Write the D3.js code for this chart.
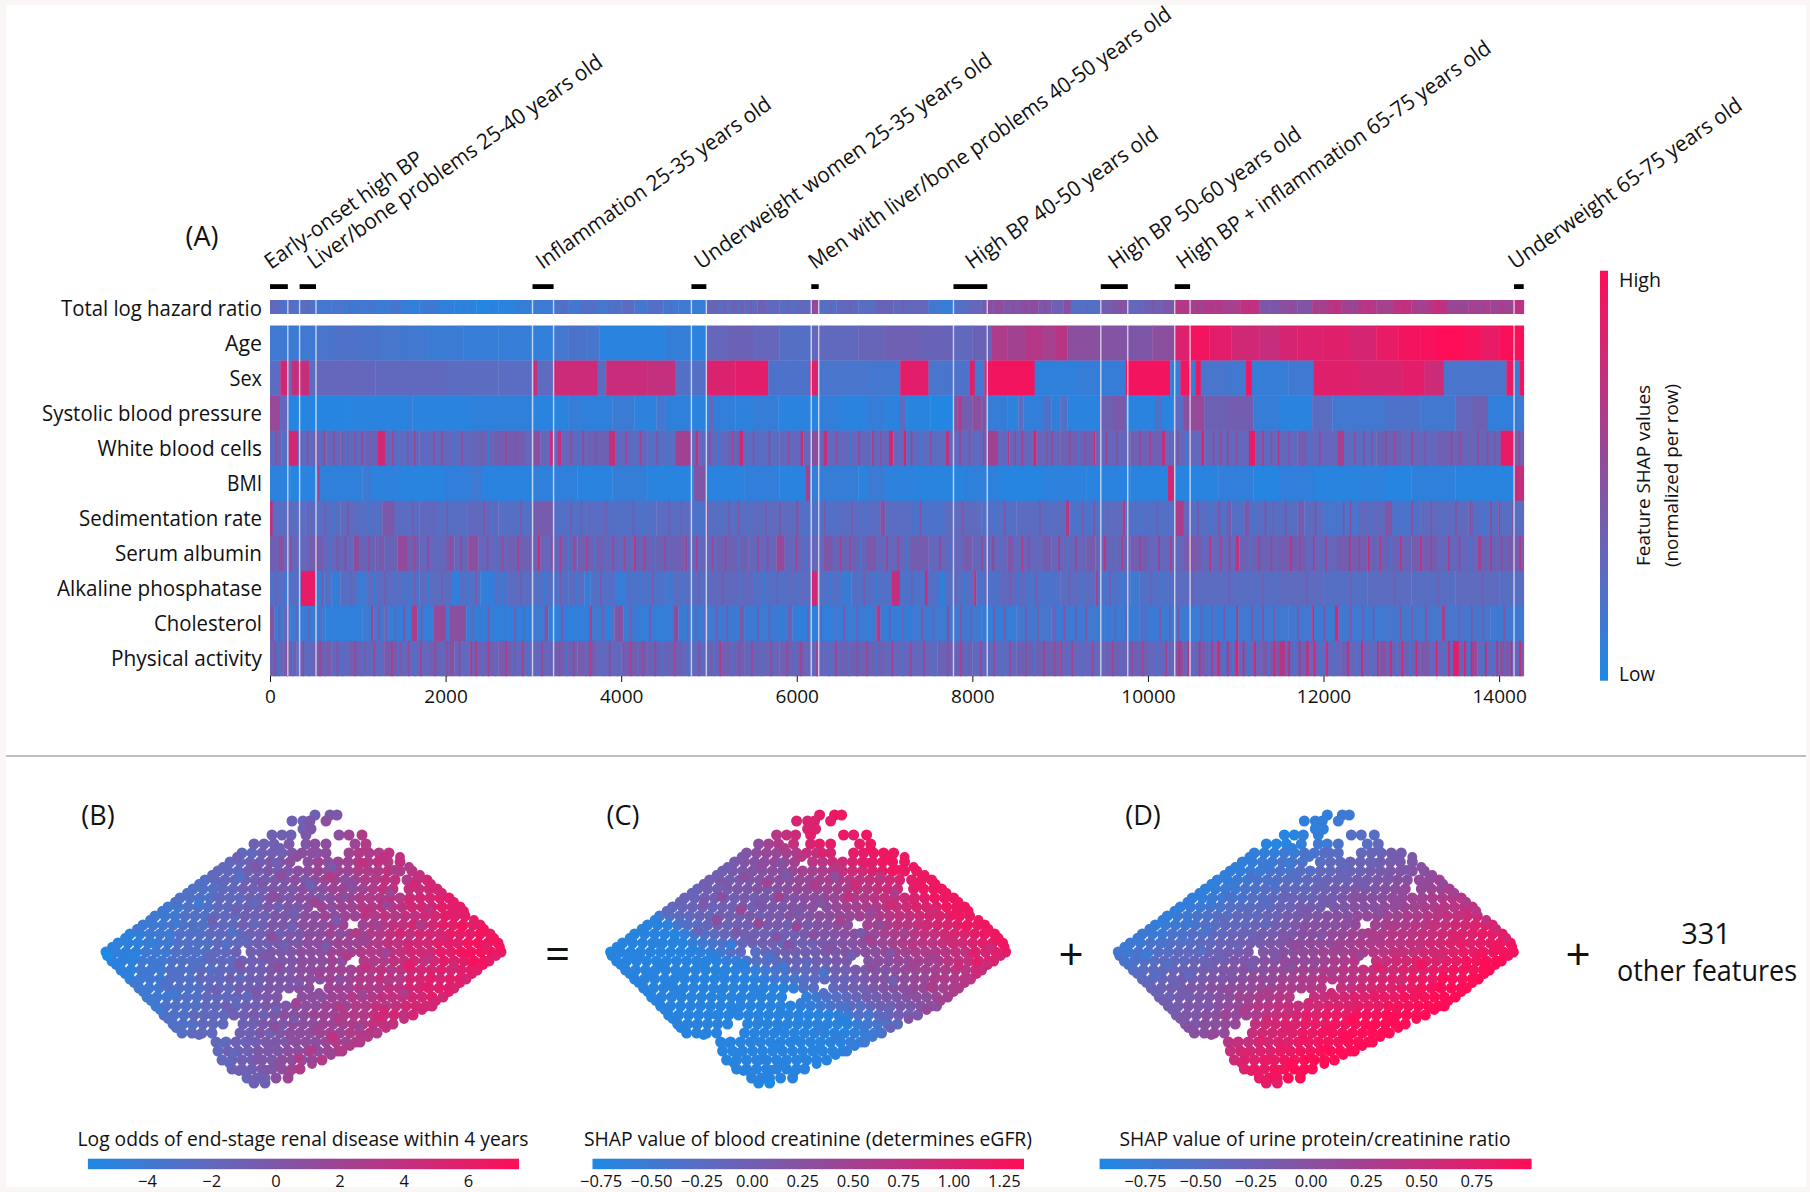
<!DOCTYPE html>
<html><head><meta charset="utf-8">
<script src="https://cdn.jsdelivr.net/npm/d3@7"></script>
<style>html,body{margin:0;padding:0;background:#faf6f5}svg{display:block}text{font-family:"Open Sans",sans-serif;fill:#111}</style>
</head><body><svg id="c" width="1810" height="1192"></svg>
<script>
// ---------- Panel A data: [first patient index, normalized SHAP value] ----------
const totalHazard=[[0,.28],[110,.2],[203,.26],[270,.2],[337,.24],[430,.2],[524,.15],[700,.18],[850,.13],[1000,.17],[1180,.12],[1350,.14],[1500,.1],[1700,.13],[1900,.08],[2100,.06],[2350,.03],[2600,.05],[2800,.09],[2990,.12],[3230,.2],[3400,.16],[3550,.24],[3700,.17],[3850,.2],[4000,.26],[4150,.18],[4300,.22],[4480,.16],[4650,.14],[4800,.1],[4970,.32],[5100,.26],[5250,.35],[5400,.28],[5550,.36],[5650,.3],[5800,.24],[6000,.28],[6165,.55],[6250,.22],[6450,.28],[6700,.24],[6900,.33],[7100,.28],[7300,.3],[7500,.15],[7650,.1],[7785,.22],[7950,.3],[8100,.38],[8170,.52],[8350,.44],[8550,.52],[8750,.42],[8900,.36],[9035,.5],[9120,.22],[9453,.38],[9600,.44],[9770,.3],[9950,.36],[10150,.42],[10305,.68],[10480,.6],[10650,.68],[10850,.62],[11050,.72],[11266,.44],[11500,.5],[11700,.46],[11870,.64],[12050,.7],[12200,.6],[12400,.68],[12600,.62],[12800,.72],[13000,.64],[13200,.72],[13405,.56],[13650,.62],[13900,.58],[14172,.72]];
const ageShap=[[0,.14],[203,.12],[337,.14],[524,.18],[750,.21],[1000,.19],[1250,.17],[1500,.15],[1800,.12],[2200,.1],[2600,.1],[2990,.08],[3230,.15],[3400,.19],[3600,.17],[3750,.05],[4200,.05],[4500,.09],[4800,.05],[4970,.3],[5200,.34],[5500,.3],[5800,.23],[6000,.22],[6165,.3],[6250,.28],[6700,.32],[7000,.36],[7400,.33],[7785,.28],[8000,.33],[8221,.65],[8400,.6],[8600,.68],[8800,.62],[8950,.7],[9081,.5],[9453,.47],[9770,.44],[10050,.5],[10305,.85],[10480,.95],[10700,.88],[10950,.8],[11266,.76],[11500,.82],[11700,.85],[12000,.87],[12300,.82],[12600,.9],[12850,.95],[13100,.97],[13300,1],[13600,.96],[13800,.9],[14000,.98]];
const sexShap=[[0,.25],[118,.8],[211,.25],[249,.76],[444,.27],[524,.3],[1200,.28],[2000,.26],[2600,.25],[3000,.75],[3047,.27],[3233,.78],[3731,.26],[3829,.77],[4300,.74],[4619,.22],[4970,.84],[5300,.88],[5674,.2],[6148,.85],[6241,.18],[6800,.16],[7178,.88],[7500,.18],[7765,.2],[7965,.9],[8026,.15],[8137,.85],[8198,.95],[8709,.07],[9200,.1],[9741,.95],[10253,.08],[10369,.93],[10490,.1],[10545,.93],[10601,.18],[10900,.15],[11117,.93],[11182,.1],[11600,.14],[11889,.87],[12400,.83],[12900,.88],[13150,.78],[13368,.18],[14083,.9],[14170,.15],[14232,.95]];
const sbpShap=[[0,.55],[110,.3],[211,.03],[900,.05],[1583,.12],[1620,.05],[2300,.07],[3000,.05],[3400,.1],[3550,.07],[3900,.12],[4150,.06],[4400,.16],[4500,.07],[4800,.05],[5000,.3],[5046,.08],[5300,.06],[5500,.1],[5790,.05],[6250,.08],[6500,.05],[6800,.1],[7000,.06],[7175,.25],[7245,.04],[7520,.02],[7780,.48],[7830,.62],[7880,.38],[8000,.5],[8100,.42],[8175,.1],[8400,.06],[8523,.25],[8580,.08],[8800,.2],[8900,.08],[9000,.22],[9081,.05],[9453,.35],[9600,.42],[9755,.05],[10080,.2],[10160,.05],[10290,.25],[10400,.5],[10500,.55],[10640,.35],[10900,.38],[11200,.1],[11500,.05],[11870,.25],[12100,.15],[12700,.2],[13100,.15],[13500,.3],[13700,.35],[13870,.08],[14172,.12]];
const wbcShap=[[0,.28],[80,.35],[130,.22],[211,.8],[318,.28],[500,.35],[640,.3],[800,.36],[900,.28],[1100,.34],[1225,.8],[1309,.3],[1500,.26],[1700,.3],[2000,.28],[2300,.32],[2560,.38],[2900,.3],[3000,.5],[3080,.3],[3180,.75],[3225,.28],[3280,.75],[3320,.3],[3600,.34],[3860,.76],[3930,.28],[4300,.24],[4620,.6],[4790,.3],[4850,.7],[4880,.28],[5200,.33],[5350,.85],[5386,.26],[5800,.3],[6045,.8],[6075,.3],[6165,.5],[6250,.3],[6300,.75],[6350,.3],[6800,.28],[6850,.6],[6880,.3],[7050,.8],[7100,.3],[7212,.85],[7245,.26],[7700,.8],[7730,.3],[8175,.6],[8290,.28],[8400,.7],[8420,.3],[8700,.85],[8730,.3],[9000,.36],[9380,.8],[9400,.3],[9800,.36],[10150,.75],[10200,.3],[10606,.85],[10640,.3],[11150,.9],[11220,.28],[11700,.38],[11800,.3],[12160,.65],[12230,.26],[12600,.34],[12900,.3],[13300,.36],[13600,.32],[14018,.9],[14170,.36]];
const bmiShap=[[0,.06],[230,.03],[337,.05],[537,.6],[565,.07],[1050,.12],[1150,.06],[1500,.04],[2000,.08],[2300,.14],[2400,.05],[3000,.07],[3500,.05],[3900,.09],[4300,.04],[4823,.45],[4954,.05],[5400,.08],[5800,.05],[6100,.6],[6153,.1],[6700,.06],[6800,.12],[7000,.06],[7400,.04],[7900,.07],[8300,.03],[8800,.06],[9300,.05],[9800,.04],[10220,.8],[10299,.04],[10800,.08],[11200,.03],[11500,.08],[11900,.04],[12400,.06],[12700,.03],[13000,.07],[13500,.04],[14172,.75]];
const sedimentation=[[0,.75],[30,.25],[400,.28],[520,.24],[800,.27],[1000,.23],[1280,.42],[1420,.25],[1700,.28],[1900,.24],[2250,.28],[2600,.23],[3000,.4],[3225,.22],[3600,.26],[3800,.32],[3850,.22],[4400,.25],[4800,.2],[4970,.8],[4990,.24],[5500,.27],[6000,.6],[6020,.22],[6500,.25],[6950,.45],[7010,.25],[7300,.2],[7700,.27],[8100,.22],[8500,.26],[9058,.7],[9104,.2],[9500,.27],[9710,.6],[9740,.22],[10313,.65],[10406,.3],[10500,.24],[10900,.38],[10950,.22],[11100,.42],[11150,.24],[11700,.38],[11780,.26],[12000,.18],[12400,.28],[12700,.45],[12780,.2],[13100,.27],[13650,.42],[13700,.22],[13990,.55],[14010,.24]];
const albumin=[[0,.36],[100,.5],[160,.3],[440,.38],[600,.3],[950,.52],[1010,.33],[1200,.42],[1300,.33],[1450,.54],[1560,.36],[1700,.3],[2000,.38],[2100,.31],[2257,.5],[2374,.3],[2700,.35],[3050,.7],[3080,.31],[3200,.5],[3230,.32],[3500,.36],[3800,.3],[4140,.7],[4165,.33],[4600,.36],[4720,.6],[4745,.3],[5100,.35],[5450,.31],[5767,.54],[5860,.3],[6300,.44],[6400,.33],[6800,.42],[6900,.3],[7300,.38],[7500,.3],[7900,.4],[8000,.31],[8400,.46],[8460,.3],[8800,.38],[8900,.31],[9300,.4],[9400,.32],[9800,.38],[10000,.3],[10400,.4],[10600,.3],[11000,.72],[11040,.34],[11500,.38],[11800,.3],[12150,.38],[12500,.74],[12530,.33],[13000,.38],[13300,.3],[13750,.6],[13800,.33],[14100,.4]];
const alkaline=[[0,.22],[351,.9],[514,.1],[620,.22],[700,.1],[800,.24],[1000,.12],[1100,.25],[1500,.2],[1700,.26],[2071,.08],[2164,.22],[2396,.08],[2559,.2],[2700,.26],[3000,.22],[3400,.26],[3580,.1],[3650,.22],[3930,.1],[4050,.2],[4500,.15],[4600,.24],[5000,.28],[5500,.22],[5900,.26],[6172,.8],[6232,.22],[6500,.12],[6620,.22],[7083,.75],[7175,.2],[7460,.75],[7490,.22],[7617,.07],[7686,.24],[8020,.75],[8045,.2],[8300,.28],[8600,.2],[9000,.26],[9400,.6],[9430,.2],[9800,.14],[9900,.22],[10300,.26],[11000,.24],[11500,.27],[12000,.23],[12500,.26],[13000,.24],[13500,.27],[14000,.24]];
const cholesterol=[[0,.45],[50,.14],[160,.3],[230,.12],[630,.07],[1050,.12],[1150,.6],[1175,.15],[1300,.3],[1350,.1],[1615,.65],[1676,.12],[1862,.55],[2000,.14],[2048,.5],[2234,.09],[2700,.08],[3000,.14],[3130,.5],[3170,.08],[3640,.6],[3665,.15],[3922,.45],[4024,.12],[4200,.1],[4600,.55],[4650,.12],[4950,.4],[4980,.14],[5350,.4],[5400,.13],[5900,.35],[5950,.08],[6400,.13],[6906,.65],[6953,.1],[7300,.14],[7700,.1],[7710,.6],[7730,.15],[8100,.1],[8500,.17],[8900,.3],[8950,.14],[9500,.12],[9900,.2],[10000,.13],[11010,.85],[11030,.14],[11600,.16],[11870,.75],[11890,.12],[12130,.78],[12170,.14],[12700,.17],[13350,.7],[13380,.18],[13900,.14]];
const activity=[[0,.32],[150,.38],[300,.28],[500,.4],[700,.3],[900,.36],[1100,.28],[1300,.42],[1500,.3],[1800,.34],[2050,.5],[2100,.3],[2270,.6],[2300,.36],[2600,.4],[2800,.3],[3200,.36],[3500,.4],[3700,.3],[4000,.38],[4300,.33],[4700,.28],[5000,.36],[5400,.32],[5800,.36],[6100,.3],[6500,.34],[7000,.3],[7600,.34],[8000,.28],[8500,.35],[9000,.7],[9020,.3],[9500,.34],[10000,.3],[10320,.5],[10400,.33],[10600,.42],[10680,.3],[10780,.7],[10820,.33],[11000,.85],[11030,.3],[11300,.42],[11500,.7],[11560,.33],[11800,.7],[11840,.3],[12200,.38],[12300,.3],[12650,.5],[12700,.33],[13100,.42],[13200,.3],[13475,.9],[13540,.33],[13700,.55],[13750,.3],[14000,.5],[14100,.33]];

// thin single stripes laid over the bands: [patient index, value]
const wbcThin=[[60,.5],[420,.55],[560,.15],[610,.5],[720,.55],[860,.14],[960,.5],[1040,.6],[1390,.55],[1450,.14],[1560,.5],[1640,.6],[1780,.14],[1860,.5],[1950,.55],[2100,.14],[2180,.5],[2400,.45],[2480,.14],[2680,.55],[2790,.5],[3420,.55],[3500,.15],[3560,.6],[3700,.5],[4050,.55],[4130,.14],[4210,.6],[4400,.5],[4500,.14],[5000,.6],[5100,.14],[5260,.55],[5500,.5],[5590,.15],[5680,.6],[5900,.5],[6450,.55],[6600,.14],[6700,.6],[6950,.5],[7300,.6],[7400,.14],[7520,.55],[7850,.6],[7960,.5],[8050,.14],[8120,.6],[8480,.55],[8560,.6],[8840,.5],[8900,.55],[9100,.6],[9200,.14],[9280,.5],[9520,.6],[9640,.55],[9900,.6],[10020,.6],[10330,.55],[10430,.14],[10740,.6],[10820,.55],[10900,.6],[11000,.5],[11300,.6],[11400,.5],[11480,.7],[11600,.55],[11850,.14],[11950,.6],[12350,.55],[12450,.6],[12540,.5],[12700,.6],[12800,.55],[13000,.6],[13150,.5],[13450,.6],[13550,.5],[13750,.6],[13860,.6],[13950,.5],[14220,.6]];
const sedThin=[[210,.4],[620,.42],[720,.14],[880,.45],[1120,.14],[1620,.42],[2010,.4],[2430,.45],[2520,.14],[2850,.42],[3420,.42],[3540,.45],[3720,.14],[4130,.42],[4240,.14],[4540,.45],[4680,.42],[5220,.42],[5330,.45],[5640,.4],[5800,.45],[6310,.42],[6620,.45],[6780,.14],[7400,.45],[7600,.14],[7880,.45],[8240,.14],[8360,.45],[8760,.42],[8890,.14],[9250,.42],[9380,.45],[9900,.14],[10100,.42],[10560,.5],[10700,.14],[10800,.5],[11210,.14],[11330,.55],[11420,.4],[11560,.5],[11900,.55],[12060,.14],[12220,.55],[12300,.5],[12520,.14],[12900,.14],[13000,.55],[13220,.5],[13360,.14],[13500,.5],[13820,.14],[13900,.55],[14150,.5]];
const albuminThin=[[230,.55],[330,.18],[530,.55],[680,.18],[760,.55],[850,.6],[1120,.55],[1220,.18],[1640,.55],[1790,.6],[1880,.18],[2050,.55],[2170,.6],[2470,.55],[2560,.18],[2640,.55],[2820,.6],[3300,.6],[3390,.18],[3460,.55],[3600,.6],[3690,.18],[3900,.6],[4030,.55],[4260,.6],[4380,.18],[4490,.55],[4850,.6],[5030,.55],[5180,.6],[5330,.18],[5550,.6],[5660,.55],[5990,.6],[6100,.18],[6490,.6],[6600,.55],[6720,.18],[7020,.6],[7150,.55],[7240,.18],[7620,.65],[7740,.18],[8100,.6],[8230,.7],[8320,.18],[8560,.65],[8640,.55],[8980,.7],[9080,.18],[9170,.65],[9500,.7],[9620,.18],[9700,.65],[9900,.6],[10120,.7],[10250,.6],[10480,.65],[10700,.75],[10820,.6],[10920,.7],[11150,.18],[11260,.7],[11400,.6],[11620,.75],[11720,.6],[11880,.7],[12020,.6],[12290,.75],[12400,.6],[12640,.65],[12760,.18],[12870,.7],[13100,.75],[13220,.6],[13420,.7],[13540,.6],[13660,.18],[13900,.7],[14020,.6],[14230,.7]];
const alkalineThin=[[60,.35],[180,.1],[590,.4],[760,.1],[920,.38],[1180,.1],[1300,.4],[1420,.12],[1640,.4],[1800,.1],[1950,.38],[2260,.1],[2340,.4],[2640,.1],[2850,.38],[3120,.1],[3300,.4],[3480,.12],[3760,.4],[4200,.1],[4350,.4],[4700,.1],[4880,.38],[5150,.4],[5340,.12],[5620,.1],[5770,.38],[6000,.1],[6380,.1],[6760,.4],[6900,.1],[7300,.4],[7800,.4],[7900,.1],[8150,.35],[8420,.42],[8520,.12],[8720,.4],[8870,.12],[9100,.42],[9240,.12],[9560,.4],[9700,.12],[10030,.4],[10150,.12],[10500,.35],[10920,.4],[11300,.35],[11800,.35],[12300,.34],[12800,.35],[13300,.34],[13800,.35]];
const cholesterolThin=[[100,.4],[300,.35],[440,.45],[560,.35],[1230,.45],[1420,.4],[1520,.5],[1720,.4],[1800,.03],[2300,.35],[2480,.4],[2590,.03],[2780,.4],[2880,.35],[3240,.03],[3320,.45],[3450,.03],[3780,.35],[3850,.03],[4100,.4],[4320,.45],[4430,.03],[4750,.35],[4840,.4],[5080,.4],[5200,.45],[5550,.4],[5680,.45],[5820,.03],[6120,.4],[6270,.4],[6530,.45],[6680,.4],[6800,.03],[7050,.45],[7200,.35],[7420,.45],[7550,.4],[7860,.45],[7980,.4],[8240,.45],[8360,.4],[8600,.45],[8740,.4],[9040,.45],[9170,.4],[9290,.45],[9620,.4],[9740,.45],[10130,.45],[10240,.4],[10340,.5],[10600,.45],[10720,.4],[10860,.45],[11180,.45],[11300,.5],[11430,.4],[11700,.45],[12000,.5],[12300,.45],[12440,.4],[12560,.5],[12870,.45],[13000,.4],[13160,.5],[13540,.4],[13680,.5],[13810,.4],[14050,.45]];
const activityThin=[[50,.55],[90,.18],[190,.55],[250,.18],[370,.55],[440,.2],[560,.6],[620,.18],[760,.55],[820,.2],[960,.6],[1040,.18],[1180,.55],[1240,.2],[1380,.6],[1450,.18],[1570,.55],[1640,.2],[1710,.6],[1870,.55],[1950,.2],[2010,.55],[2150,.6],[2220,.2],[2340,.65],[2420,.2],[2480,.6],[2560,.2],[2680,.65],[2750,.2],[2870,.6],[2940,.2],[3090,.6],[3290,.55],[3370,.2],[3450,.6],[3590,.2],[3640,.65],[3790,.2],[3860,.6],[3950,.2],[4100,.6],[4180,.2],[4240,.55],[4380,.6],[4460,.2],[4600,.6],[4760,.2],[4880,.55],[5050,.2],[5120,.65],[5260,.2],[5340,.55],[5480,.6],[5590,.2],[5700,.6],[5880,.55],[5970,.2],[6040,.65],[6220,.6],[6360,.2],[6440,.6],[6590,.2],[6680,.55],[6790,.6],[6900,.2],[7080,.6],[7200,.2],[7290,.55],[7440,.6],[7560,.2],[7710,.55],[7860,.6],[7920,.2],[8090,.6],[8240,.55],[8330,.2],[8420,.6],[8600,.55],[8700,.2],[8810,.6],[8930,.55],[9130,.6],[9240,.2],[9360,.55],[9590,.6],[9690,.2],[9810,.55],[9930,.6],[10090,.2],[10200,.6],[10350,.8],[10450,.7],[10510,.15],[10580,.8],[10650,.15],[10720,.75],[10860,.15],[10900,.8],[10960,.15],[11080,.8],[11140,.15],[11210,.85],[11370,.15],[11430,.8],[11600,.85],[11660,.15],[11720,.8],[11890,.85],[11960,.15],[12030,.8],[12110,.15],[12270,.8],[12360,.15],[12430,.85],[12560,.15],[12610,.8],[12760,.85],[12830,.15],[12890,.8],[12980,.15],[13050,.8],[13280,.85],[13360,.15],[13420,.85],[13600,.85],[13640,.15],[13680,.9],[13800,.15],[13840,.85],[13920,.15],[13970,.8],[14060,.15],[14130,.8],[14230,.85]];
const totalThin=[[430,.32],[900,.28],[1100,.04],[1430,.26],[1640,.03],[1830,.2],[2200,.14],[2520,.12],[3340,.3],[3630,.08],[3930,.32],[4230,.1],[4560,.28],[5170,.4],[5330,.18],[5470,.42],[5720,.2],[5900,.36],[6380,.36],[6600,.36],[7200,.4],[8230,.3],[8460,.62],[8640,.36],[8820,.58],[9300,.3],[9680,.52],[10050,.46],[10560,.74],[10760,.52],[11150,.82],[11380,.36],[11620,.6],[11950,.5],[12130,.8],[12320,.5],[12500,.78],[12720,.5],[12920,.8],[13100,.52],[13300,.82],[13520,.66],[13780,.5],[14030,.68]];

const rowLabels=["Total log hazard ratio","Age","Sex","Systolic blood pressure","White blood cells","BMI","Sedimentation rate","Serum albumin","Alkaline phosphatase","Cholesterol","Physical activity"];
const rowStripes=[totalHazard,ageShap,sexShap,sbpShap,wbcShap,bmiShap,sedimentation,albumin,alkaline,cholesterol,activity];
const rowThin=[totalThin,[],[],[],wbcThin,[],sedThin,albuminThin,alkalineThin,cholesterolThin,activityThin];
const patientCount=14280;
const patientTicks=[0,2000,4000,6000,8000,10000,12000,14000];

const clusterNames=["Early-onset high BP","Liver/bone problems 25-40 years old","Inflammation 25-35 years old","Underweight women 25-35 years old","Men with liver/bone problems 40-50 years old","High BP 40-50 years old","High BP 50-60 years old","High BP + inflammation 65-75 years old","Underweight 65-75 years old"];
const clusterStart=[0,337,2990,4800,6165,7785,9463,10305,14170];
const clusterEnd=[203,524,3230,4970,6250,8170,9770,10480,14280];

// ---------- Panels B, C, D data: embedding rows, and the value at each point ----------
const embedY=[0,6,14,20,29,38,47,56,65,74,83,92,101,110,119,128,137,146,155,164,173,182,191,200,209,218,227,236,245,254,263,268];
const embedX=[
[211,226,233],
[188,199,206,222],
[199,207],
[168,178,187,202,235,245,258],
[150,160,170,185,202,211,222,251,262],
[138,148,158,168,178,188,198,208,222,245,255,265,275,285],
[126,136,146,156,166,176,186,204,214,224,234,244,254,264,274,284,296],
[114,124,134,144,154,164,174,184,194,204,214,224,234,244,254,264,274,284,296,308],
[101,111,121,131,141,151,161,171,181,191,201,211,221,231,241,251,261,271,281,291,303,313,323],
[89,99,109,119,129,139,149,159,169,179,189,199,209,219,229,239,249,259,269,279,289,305,315,325,333],
[76,86,96,106,116,126,136,146,156,166,176,186,196,206,216,226,236,246,256,266,276,286,296,306,316,326,336,345],
[64,74,84,94,104,114,124,134,144,154,164,174,184,194,204,218,228,238,248,258,268,278,288,298,308,318,328,338,348,356],
[51,61,71,81,91,101,111,121,131,141,151,161,171,181,191,201,211,221,231,241,251,261,271,281,291,301,311,321,331,341,351,361],
[39,49,59,69,79,89,99,109,119,129,139,149,159,169,179,189,199,209,219,229,239,259,269,279,289,299,309,319,329,339,349,359,369,376],
[26,36,46,56,66,76,86,96,106,116,126,136,146,156,166,176,186,196,206,216,226,236,246,256,266,276,286,296,306,316,326,336,346,356,366,376,386],
[14,24,34,44,54,64,74,84,94,104,114,124,134,144,154,164,174,184,194,204,214,224,234,244,254,264,274,284,294,304,314,324,334,344,354,364,374,384,394],
[2,12,22,32,42,52,62,72,82,92,102,112,122,132,147,157,167,177,187,197,207,217,227,237,247,257,267,277,287,297,307,317,327,337,347,357,367,377,387,397],
[8,18,28,38,48,58,68,78,88,98,108,118,128,138,148,158,168,178,188,198,208,218,228,238,260,270,280,290,300,310,320,330,340,350,360,370,380,385],
[17,27,37,47,57,67,77,87,97,107,117,127,137,147,157,167,177,187,197,207,217,227,237,247,257,267,277,287,297,307,317,327,337,347,357,367,373],
[26,36,46,56,66,76,86,96,106,116,126,136,146,156,166,176,186,196,206,216,226,236,246,256,266,276,286,296,306,316,326,336,346,356,362],
[35,45,55,65,75,85,95,105,115,125,135,145,155,165,175,185,195,205,225,235,245,255,265,275,285,295,305,315,325,335,345,350],
[43,53,63,73,83,93,103,113,123,133,143,153,163,173,198,208,218,228,238,248,258,268,278,288,298,308,318,328,339],
[52,62,72,82,92,102,112,122,132,142,152,162,172,182,192,202,212,222,232,242,252,262,272,282,292,302,312,322,328],
[60,70,80,90,100,110,120,130,140,150,160,170,180,190,200,210,220,230,240,250,260,270,280,290,300,309],
[69,79,89,99,109,119,139,149,159,169,179,189,199,209,219,229,239,249,259,269,279,289],
[78,88,98,108,136,146,156,166,176,186,196,206,216,226,236,246,256,266,273],
[112,122,132,142,152,162,172,182,192,202,212,222,232,242,252,256],
[114,124,134,144,154,164,174,184,194,204,214,224,234,238],
[118,128,138,148,158,168,178,188,198,208,218],
[128,138,148,158,168,178,188,196],
[143,153,161,172,184],
[150,161]];
const logOdds=[
[-1,0,0],
[-1,-1,0,1],
[-1,0],
[-1,-1,-1,0,1,2,3],
[-1,-1,-1,0,0,1,1,2,3],
[-2,-2,-1,-1,-1,0,1,1,1,2,3,3,3,4],
[-2,-2,-1,-1,0,0,1,1,2,1,2,2,3,3,4,3,4],
[-2,-2,-2,-1,-1,0,-1,0,1,1,2,1,2,2,3,3,3,4,3,4],
[-3,-2,-2,-2,-1,-1,-1,0,0,1,0,1,2,2,1,2,3,3,4,4,3,4,5],
[-3,-3,-3,-2,-2,-1,-1,-1,0,0,0,1,0,1,2,2,1,2,3,4,4,4,4,5,5],
[-3,-3,-3,-3,-2,-2,-2,-1,-1,0,0,0,1,1,0,1,2,2,3,3,3,4,3,4,5,5,6,6],
[-4,-4,-3,-3,-3,-2,-2,-2,-1,-1,0,-1,0,0,1,2,1,2,2,3,3,4,3,4,5,5,5,6,6,6],
[-4,-4,-4,-3,-3,-3,-2,-2,-2,-1,-1,-1,0,0,0,1,1,2,1,2,2,3,3,4,3,4,4,5,5,6,6,6],
[-4,-4,-4,-3,-3,-3,-3,-2,-2,-2,-1,-1,-1,0,0,0,1,1,1,2,2,2,3,3,4,4,5,4,5,6,6,6,6,6],
[-5,-5,-4,-4,-4,-3,-3,-3,-2,-2,-2,-2,-1,-1,0,-1,0,0,1,1,2,1,2,2,3,3,4,4,4,5,5,5,6,6,6,7,6],
[-5,-5,-5,-4,-4,-4,-3,-3,-3,-3,-2,-2,-2,-1,-1,-1,0,0,0,1,1,1,2,2,2,3,3,4,4,4,5,5,6,6,6,7,7,7,6],
[-6,-5,-5,-5,-4,-4,-4,-3,-3,-3,-3,-2,-2,-1,-1,-1,0,0,0,1,1,1,2,2,2,3,3,3,4,4,5,5,5,6,6,7,7,7,7,6],
[-5,-5,-5,-4,-4,-4,-3,-3,-3,-3,-2,-2,-2,-1,-1,-1,0,0,0,1,1,1,2,1,3,3,3,4,4,5,4,5,6,6,6,7,7,6],
[-5,-5,-4,-4,-4,-3,-3,-3,-2,-3,-2,-2,-1,-1,-1,0,0,0,1,1,1,2,2,2,3,3,4,3,4,5,5,5,6,5,6,6,6],
[-5,-4,-4,-4,-3,-3,-3,-2,-2,-2,-1,-2,-1,-1,0,0,0,1,1,1,2,2,2,3,3,4,4,3,5,5,5,5,6,6,5],
[-4,-4,-4,-3,-3,-3,-3,-2,-2,-2,-1,-1,-1,0,0,0,1,1,2,2,2,3,3,3,4,4,5,5,5,6,6,5],
[-4,-4,-4,-3,-3,-3,-2,-2,-2,-1,-2,-1,0,0,1,1,1,2,2,3,3,3,4,4,4,5,5,6,5],
[-4,-3,-3,-3,-3,-2,-2,-1,-2,-1,-1,0,0,0,1,1,1,2,2,2,3,3,4,3,4,5,5,5,5],
[-3,-3,-3,-2,-2,-2,-2,-1,-1,0,-1,0,1,1,1,2,2,2,3,3,3,4,4,5,4,5],
[-3,-3,-2,-2,-2,-2,-1,-1,0,0,0,1,1,1,2,2,2,3,3,4,4,4],
[-3,-2,-2,-2,-1,-1,0,-1,0,1,1,1,2,2,2,3,3,4,3],
[-2,-2,-1,-2,-1,0,0,0,1,1,1,2,3,2,3,3],
[-2,-1,-1,-1,0,0,0,1,1,2,1,2,3,3],
[-2,-1,-1,-1,0,0,1,1,1,2,3],
[-1,-1,-1,0,0,1,2,3],
[-2,-1,-1,1,2],
[-1,-1]];
const shapCreatinine=[
[1.1,1.2,1.2],
[1,1,1,1.1],
[1,1],
[.7,.8,.9,1.1,1.2,1.1,1.2],
[.3,.5,.6,.8,1,1.1,1.1,1.1,1.2],
[.2,.3,.4,.4,.5,.6,.8,.8,1,1.1,1.1,1.2,1.2,1.2],
[.1,.2,.2,.3,.4,.4,.5,.7,.7,.9,.9,1,1.1,1.1,1.2,1.2,1.2],
[0,.1,.1,.2,.2,.3,.3,.4,.5,.5,.6,.6,.8,.9,.9,1,1.1,1.2,1.2,1.2],
[0,.1,0,.1,.1,.2,.2,.3,.3,.4,.4,.5,.6,.6,.7,.7,.8,.9,.9,1,1.1,1.2,1.2],
[-.1,0,0,0,.1,.1,.2,.1,.2,.3,.4,.4,.4,.5,.5,.6,.7,.7,.8,.9,.9,1.1,1.2,1.2,1.2],
[-.1,-.1,0,0,0,0,.1,0,.1,.1,.2,.2,.3,.3,.4,.4,.5,.6,.6,.7,.8,.8,.9,1,1.1,1.2,1.2,1.2],
[-.2,-.1,-.1,0,-.1,0,0,.1,0,.1,.1,.1,.2,.2,.3,.3,.4,.5,.5,.6,.6,.7,.8,.9,1,1,1.1,1.2,1.2,1.2],
[-.5,-.3,-.2,-.2,-.1,-.1,0,0,0,.1,0,.1,.1,.2,.2,.2,.3,.3,.4,.4,.5,.5,.6,.7,.8,.8,.9,1,1,1.1,1.2,1.2],
[-.7,-.7,-.7,-.5,-.3,-.3,-.1,0,-.1,0,0,0,.1,.1,0,.1,.1,.2,.2,.3,.3,.5,.5,.6,.7,.7,.8,.9,1,1,1.1,1.2,1.2,1.2],
[-.7,-.7,-.7,-.7,-.7,-.6,-.4,-.3,-.2,-.1,-.1,0,0,0,-.1,0,0,.1,.1,.2,.2,.3,.3,.4,.4,.5,.6,.6,.7,.8,.8,.9,1,1,1.1,1.2,1.2],
[-.7,-.7,-.7,-.7,-.7,-.7,-.7,-.6,-.5,-.4,-.3,-.2,-.1,-.1,0,0,-.1,0,0,0,.1,.1,.2,.2,.3,.4,.4,.5,.6,.6,.7,.7,.8,.9,.9,1,1.1,1.2,1.2],
[-.8,-.7,-.7,-.7,-.7,-.7,-.7,-.7,-.7,-.6,-.6,-.5,-.3,-.2,-.3,-.1,-.1,0,0,0,0,.1,.1,.2,.2,.3,.3,.4,.5,.5,.6,.6,.7,.7,.8,.8,.9,1,1.1,1.1],
[-.7,-.7,-.7,-.7,-.7,-.7,-.7,-.7,-.7,-.7,-.7,-.6,-.6,-.4,-.3,-.2,-.2,-.1,-.1,0,0,0,.1,.1,.2,.3,.3,.4,.4,.5,.5,.6,.7,.7,.8,.9,1,1],
[-.7,-.7,-.7,-.7,-.7,-.7,-.7,-.7,-.7,-.7,-.7,-.7,-.6,-.6,-.5,-.4,-.3,-.2,-.2,-.1,-.1,0,0,.1,.1,.2,.2,.3,.4,.4,.5,.5,.6,.7,.7,.8,.8],
[-.7,-.7,-.7,-.7,-.7,-.7,-.7,-.7,-.7,-.7,-.7,-.7,-.7,-.6,-.5,-.5,-.4,-.3,-.2,-.2,-.1,0,0,.1,.2,.2,.3,.3,.4,.4,.5,.6,.6,.7,.7],
[-.7,-.7,-.7,-.7,-.7,-.7,-.7,-.7,-.7,-.7,-.7,-.7,-.7,-.7,-.7,-.6,-.4,-.3,-.2,-.1,0,0,.1,.2,.2,.3,.4,.4,.5,.5,.6,.6],
[-.7,-.7,-.7,-.7,-.7,-.7,-.7,-.7,-.7,-.7,-.7,-.7,-.7,-.7,-.6,-.5,-.4,-.3,-.2,-.1,0,0,.1,.1,.2,.3,.3,.4,.5],
[-.7,-.7,-.7,-.7,-.7,-.7,-.7,-.7,-.7,-.7,-.7,-.7,-.7,-.7,-.7,-.6,-.5,-.4,-.3,-.2,-.3,-.1,0,0,.1,.1,.2,.3,.3],
[-.7,-.7,-.7,-.7,-.7,-.7,-.7,-.7,-.7,-.7,-.7,-.7,-.7,-.7,-.7,-.7,-.7,-.6,-.5,-.3,-.4,-.2,-.1,0,0,.1],
[-.7,-.7,-.7,-.7,-.7,-.7,-.7,-.7,-.7,-.7,-.7,-.7,-.7,-.7,-.7,-.7,-.7,-.6,-.5,-.4,-.3,-.2],
[-.7,-.7,-.7,-.7,-.7,-.7,-.7,-.7,-.7,-.7,-.7,-.7,-.7,-.7,-.7,-.6,-.6,-.5,-.4],
[-.7,-.7,-.7,-.7,-.7,-.7,-.7,-.7,-.7,-.7,-.7,-.7,-.7,-.6,-.6,-.5],
[-.7,-.7,-.7,-.7,-.7,-.7,-.7,-.7,-.7,-.7,-.7,-.7,-.7,-.6],
[-.7,-.7,-.7,-.7,-.7,-.7,-.7,-.7,-.7,-.7,-.7],
[-.7,-.7,-.7,-.7,-.7,-.7,-.7,-.7],
[-.7,-.7,-.7,-.7,-.7],
[-.8,-.8]];
const shapUrine=[
[-.8,-.7,-.7],
[-.8,-.8,-.8,-.7],
[-.8,-.8],
[-.9,-.9,-.8,-.8,-.5,-.5,-.5],
[-.9,-.9,-.9,-.8,-.7,-.7,-.6,-.5,-.4],
[-.8,-.8,-.8,-.7,-.7,-.6,-.6,-.5,-.5,-.4,-.3,-.3,-.2,-.2],
[-.8,-.8,-.7,-.7,-.6,-.6,-.6,-.5,-.4,-.4,-.3,-.3,-.3,-.2,-.2,-.1,-.1],
[-.8,-.8,-.7,-.7,-.6,-.6,-.6,-.5,-.5,-.4,-.4,-.3,-.3,-.3,-.2,-.2,-.1,-.1,0,0],
[-.8,-.8,-.7,-.7,-.6,-.6,-.5,-.5,-.5,-.4,-.4,-.3,-.3,-.3,-.2,-.2,-.1,-.1,0,0,.1,.1,.2],
[-.8,-.8,-.7,-.7,-.6,-.6,-.5,-.5,-.4,-.4,-.4,-.3,-.3,-.2,-.2,-.1,-.1,-.1,0,0,.1,.1,.2,.2,.3],
[-.8,-.8,-.7,-.7,-.6,-.6,-.5,-.5,-.4,-.4,-.3,-.3,-.3,-.2,-.2,-.1,-.1,0,0,0,.1,.1,.2,.2,.3,.3,.4,.4],
[-.8,-.7,-.7,-.6,-.6,-.5,-.5,-.5,-.4,-.4,-.3,-.3,-.2,-.2,-.2,-.1,-.1,0,0,0,.1,.1,.2,.2,.3,.3,.4,.4,.5,.5],
[-.8,-.7,-.7,-.6,-.6,-.5,-.5,-.4,-.4,-.4,-.3,-.3,-.2,-.2,-.1,-.1,0,0,0,.1,.1,.2,.2,.2,.3,.3,.4,.4,.5,.5,.6,.6],
[-.8,-.7,-.7,-.6,-.6,-.5,-.5,-.4,-.4,-.4,-.3,-.3,-.2,-.2,-.1,-.1,0,0,0,.1,.1,.2,.2,.3,.3,.4,.4,.5,.5,.6,.6,.7,.7,.7],
[-.7,-.7,-.7,-.6,-.6,-.5,-.5,-.4,-.4,-.3,-.3,-.3,-.2,-.2,-.1,-.1,0,0,.1,.1,.1,.2,.2,.3,.3,.4,.4,.5,.5,.5,.6,.6,.7,.7,.8,.8,.8],
[-.7,-.7,-.6,-.6,-.5,-.5,-.5,-.4,-.4,-.3,-.3,-.2,-.2,-.2,-.1,-.1,0,0,.1,.1,.1,.2,.2,.3,.3,.4,.4,.4,.5,.5,.6,.6,.7,.7,.7,.8,.8,.9,.9],
[-.7,-.7,-.6,-.6,-.5,-.5,-.4,-.4,-.4,-.3,-.3,-.2,-.2,-.1,-.1,-.1,0,0,.1,.1,.2,.2,.2,.3,.3,.4,.4,.5,.5,.5,.6,.6,.7,.7,.8,.8,.8,.9,.9,.9],
[-.6,-.6,-.5,-.5,-.4,-.4,-.4,-.3,-.3,-.2,-.2,-.1,-.1,-.1,0,0,.1,.1,.1,.2,.2,.3,.3,.4,.5,.5,.6,.6,.7,.7,.7,.8,.8,.9,.9,.9,1,1],
[-.5,-.5,-.4,-.4,-.3,-.3,-.3,-.2,-.2,-.1,-.1,0,0,0,.1,.1,.2,.2,.2,.3,.3,.4,.4,.5,.5,.6,.6,.7,.7,.7,.8,.8,.9,.9,.9,1,1],
[-.4,-.4,-.3,-.3,-.2,-.2,-.2,-.1,-.1,0,0,.1,.1,.1,.2,.2,.3,.3,.4,.4,.4,.5,.5,.6,.6,.7,.7,.8,.8,.8,.9,.9,.9,1,1],
[-.3,-.3,-.2,-.2,-.1,-.1,0,0,0,.1,.1,.2,.2,.3,.3,.3,.4,.4,.5,.5,.6,.6,.7,.7,.8,.8,.9,.9,.9,1,1,1],
[-.3,-.3,-.2,-.2,-.1,-.1,0,0,.2,.2,.3,.3,.4,.4,.5,.5,.6,.6,.7,.7,.7,.8,.8,.9,.9,.9,1,1,1],
[-.2,-.2,-.1,-.1,0,0,.1,.1,.3,.4,.4,.5,.5,.5,.6,.6,.7,.7,.7,.8,.8,.8,.9,.9,.9,1,1,1,1],
[-.2,-.1,-.1,0,0,.1,.1,.2,.3,.4,.5,.6,.6,.7,.7,.8,.8,.8,.9,.9,.9,1,1,1,1,1],
[-.1,-.1,0,0,.1,.1,.5,.6,.6,.7,.7,.8,.8,.8,.9,.9,.9,1,1,1,1,1],
[0,0,.1,.1,.5,.6,.6,.7,.7,.8,.8,.9,.9,.9,1,1,1,1,1],
[.4,.5,.5,.6,.6,.7,.7,.8,.8,.9,.9,.9,1,1,1,1],
[.5,.6,.6,.7,.7,.8,.8,.9,.9,.9,1,1,1,1],
[.6,.7,.7,.8,.8,.9,.9,1,1,1,1],
[.7,.8,.8,.9,.9,1,1,1],
[.8,.9,.9,1,1],
[.8,.8]];
// loose points drawn on top of the rows
const looseX=[133,119,108,95,83,71,58,46,33,21, 8,3,12,21,30,39,47,56,64,72, 296,305,316,327,338,350,360,370,380,390, 396,392,379,368,356,345,332,318,300,282, 264,246,227,208,185,120,125,135,150,95, 176,193,214,262,280,152,172,228,258,290, 118,136,158,177,206,226,247,272,286,310, 95,113,132,150,170,190,212,240,262,282, 305,325,345,72,90,108,128,150,168,188, 205,232,252,272,296,316,338,358,48,66, 85,104,122,143,160,180,198,222,243,262, 282,304,325,346,365,382,30,52,72,93, 115,135,155,175,195,215,236,262,284,305, 327,350,368,70,92,112,132,152,172,192, 215,236,258,280,300,322,88,108,128,150, 170,190,212,235,255,275,145,165,188,208, 228,130,152,175,195,142,163,60,40,20];
const looseY=[42,52,60,69,78,87,96,105,114,123, 132,141,150,159,168,177,186,195,204,213, 42,52,60,69,78,87,96,105,114,123, 132,141,150,159,168,177,186,195,204,213, 222,231,240,249,258,228,248,256,266,220, 33,42,38,33,43,52,48,52,48,55, 70,62,68,60,70,62,70,62,78,70, 88,82,95,87,82,98,88,82,97,90, 85,95,100,108,115,105,117,108,122,112, 120,106,118,110,118,110,122,112,128,122, 135,142,130,125,142,130,148,132,141,125, 138,130,142,128,138,132,140,150,160,148, 160,150,165,152,168,158,165,152,166,150, 162,150,148,178,190,175,185,178,195,188, 178,192,180,195,178,172,210,200,196,205, 212,204,215,205,212,202,226,232,225,235, 222,238,245,250,243,258,255,170,160,142];
const looseOdds=[-1,-2,-2,-3,-3,-3,-4,-4,-4,-5, -5,-6,-5,-5,-4,-4,-4,-4,-3,-3, 4,3,4,5,5,6,6,6,7,7, 7,6,7,6,6,6,5,5,4,4, 3,3,2,2,2,-2,-2,-1,-1,-2, -1,1,1,3,4,0,-1,0,4,3, -2,-3,0,1,-1,3,1,3,2,5, -4,-2,-1,-2,1,-1,2,1,4,2, 5,4,6,-4,-3,-1,-3,-2,1,-1, 1,0,3,2,5,3,5,7,-5,-4, -3,-2,-3,-2,0,-1,1,0,3,2, 2,5,4,6,7,6,-5,-4,-3,-3, -2,0,-1,1,0,2,1,4,3,6, 6,5,7,-4,-3,-1,-2,0,-1,2, 1,3,2,5,3,6,-3,-2,-1,-1, 1,0,2,3,2,5,-1,0,1,3, 4,-2,0,1,3,-1,0,-3,-4,-5];
const looseCreatinine=[.1,0,0,0,-.1,-.1,-.2,-.7,-.7,-.7, -.7,-.7,-.7,-.7,-.7,-.7,-.7,-.7,-.7,-.7, 1.2,1.2,1.2,1.2,1.2,1.2,1.2,1.2,1.2,1.2, 1.2,1,.9,.9,.7,.6,.5,.4,.2,-.1, -.5,-.6,-.7,-.7,-.7,-.7,-.7,-.7,-.7,-.7, .6,.7,1,1.2,1.2,.3,.2,.7,1.1,1.2, .1,.3,.5,.1,.6,.3,.9,.7,.6,1.2, .1,.3,.4,.1,.5,.1,.2,.8,.4,.9, 1,.9,1.2,-.4,-.1,.3,.1,.4,.2,.4, .3,.5,.1,.4,.5,.9,.9,1.2,-.7,-.7, -.7,-.7,-.6,0,-.4,.2,-.2,.2,0,.5, .2,.7,.5,.9,1.1,.9,-.7,-.7,-.7,-.7, -.7,-.7,-.6,-.5,-.3,-.4,-.1,.3,0,.5, .6,.9,1.1,-.7,-.7,-.7,-.7,-.7,-.7,-.6, -.3,-.4,0,-.1,.3,.6,-.7,-.7,-.7,-.7, -.7,-.7,-.6,-.7,-.5,-.2,-.7,-.7,-.7,-.7, -.6,-.7,-.7,-.7,-.7,-.7,-.7,-.7,-.7,-.7];
const looseUrine=[-.8,-.8,-.8,-.8,-.8,-.8,-.8,-.8,-.7,-.7, -.7,-.6,-.6,-.5,-.4,-.3,-.2,-.2,-.1,0, -.1,0,.1,.1,.2,.3,.4,.5,.6,.7, .9,.9,1,1,1,1,1,1,1,1, 1,1,1,1,1,.5,.7,.8,.8,.1, -.8,-.6,-.5,-.4,-.2,-.7,-.7,-.4,-.3,-.1, -.7,-.6,-.6,-.5,-.3,-.3,-.2,-.1,.1,.1, -.7,-.6,-.4,-.5,-.3,-.1,-.2,0,0,.1, .2,.4,.5,-.7,-.6,-.4,-.3,-.4,-.1,0, -.1,0,.3,.3,.4,.5,.7,.7,-.6,-.6, -.5,-.3,-.3,-.2,-.1,.1,.1,.2,.2,.3, .5,.5,.6,.8,.9,.9,-.7,-.5,-.4,-.3, -.1,-.2,.1,0,.3,.3,.4,.7,.6,.9, 1,.9,1,-.2,-.1,.1,.2,.3,.5,.6, .6,.7,.8,.9,.9,1,0,.2,.3,.6, .7,.8,.9,1,1,1,.7,.8,.9,1, 1,.7,.8,1,1,.8,.9,-.3,-.5,-.6];
const oddsTicks=[-4,-2,0,2,4,6];
const creatinineTicks=[-.75,-.5,-.25,0,.25,.5,.75,1,1.25];
const urineTicks=[-.75,-.5,-.25,0,.25,.5,.75];

// ---------- Layout and styling ----------
const svg=d3.select("#c");
const stops=d3.scaleLinear().domain([0,.25,.5,.75,1]).range(["#1e88e5","#5a6dc2","#8a4f9f","#c42f7d","#ff0d57"]);
svg.append("rect").attr("x",6).attr("y",5).attr("width",1800).attr("height",1182).attr("fill","#fff");
svg.append("line").attr("x1",6).attr("x2",1806).attr("y1",756).attr("y2",756).attr("stroke","#a8a8a8").attr("stroke-width",1.3);

function put(txt,x,y,size,anchor,width,rot){
  const t=svg.append("text").text(txt).attr("font-size",size).attr("text-anchor",anchor||"start").attr("dy",".35em");
  if(width) t.attr("textLength",width).attr("lengthAdjust","spacingAndGlyphs");
  t.attr("transform",`translate(${x},${y})`+(rot?` rotate(${rot})`:""));
  return t;
}
const xA=d3.scaleLinear().domain([0,patientCount]).range([270,1523.7]);
const rowBands=[[300,314]].concat(d3.range(10).map(i=>[325.5+35.05*i,325.5+35.05*(i+1)]));
const labelWidths=[201,37,32.5,220,164.5,35,183,147,205,108,151];
rowStripes.forEach((stripes,r)=>{
  const [y0,y1]=rowBands[r];
  svg.append("g").selectAll("rect").data(stripes).join("rect")
    .attr("x",d=>xA(d[0])).attr("y",y0)
    .attr("width",(d,i)=>xA(i+1<stripes.length?stripes[i+1][0]:patientCount)-xA(d[0])+.4)
    .attr("height",y1-y0+(r?.3:0)).attr("fill",d=>stops(d[1]));
  svg.append("g").selectAll("rect").data(rowThin[r]).join("rect")
    .attr("x",d=>xA(d[0])).attr("y",y0).attr("width",1.5)
    .attr("height",y1-y0+(r?.3:0)).attr("fill",d=>stops(d[1]));
  put(rowLabels[r],262,(y0+y1)/2+(r?0.3:1),21.5,"end",labelWidths[r]);
});
// cluster separators
const seps=d3.merge([clusterStart,clusterEnd]).filter(v=>v>0&&v<patientCount);
svg.append("g").selectAll("line").data(seps).join("line")
  .attr("x1",d=>xA(d)).attr("x2",d=>xA(d)).attr("y1",300).attr("y2",676)
  .attr("stroke","#fff").attr("stroke-opacity",.68).attr("stroke-width",1.4);
// cluster bars
svg.append("g").selectAll("rect").data(clusterStart).join("rect")
  .attr("x",d=>xA(d)).attr("y",284.2).attr("height",4.8)
  .attr("width",(d,i)=>xA(clusterEnd[i])-xA(d)).attr("fill","#000");
const labelX=[271,314,542.5,701,815,972,1115,1183,1515];
const labelLen=[188,355,282,358,438,230,230,379,280];
clusterNames.forEach((n,i)=>{
  svg.append("text").text(n).attr("font-size",21.5).attr("textLength",labelLen[i]).attr("lengthAdjust","spacingAndGlyphs")
    .attr("transform",`translate(${labelX[i]},270) rotate(-35.2)`);
});
// x axis
const axA=svg.append("g").attr("transform","translate(0,676)").call(d3.axisBottom(xA).tickValues(patientTicks).tickSize(6).tickFormat(d3.format("d")));
axA.select(".domain").remove();
axA.selectAll("text").attr("font-size",19).attr("font-family","Open Sans").attr("dy",0).attr("y",27);
axA.selectAll("line").attr("stroke","#111");

// defs: colour bars
const defs=svg.append("defs");
const gradH=defs.append("linearGradient").attr("id","gh");
const gradV=defs.append("linearGradient").attr("id","gv").attr("x1",0).attr("y1",1).attr("x2",0).attr("y2",0);
d3.range(0,1.001,.25).forEach(o=>{[gradH,gradV].forEach(g=>g.append("stop").attr("offset",o).attr("stop-color",stops(o)));});
svg.append("rect").attr("x",1600).attr("y",270.7).attr("width",8).attr("height",410).attr("fill","url(#gv)");
put("High",1619,280,20,"start",42);
put("Low",1619,674,20,"start",36);
put("Feature SHAP values",1644,475.5,18.5,"middle",181,-90);
put("(normalized per row)",1671.5,475.5,18.5,"middle",183,-90);

// scatter panels
const panels=[
 {vals:logOdds,loose:looseOdds,dom:[-5.84,7.59],ticks:oddsTicks,fmt:d=>d3.format("d")(d).replace("-","−"),dx:0,bar:[87.9,519],title:"Log odds of end-stage renal disease within 4 years",tx:303,tw:451},
 {vals:shapCreatinine,loose:looseCreatinine,dom:[-.79,1.35],ticks:creatinineTicks,fmt:d=>d3.format(".2f")(d).replace("-","−"),dx:504.6,bar:[592.5,1024],title:"SHAP value of blood creatinine (determines eGFR)",tx:808,tw:448},
 {vals:shapUrine,loose:looseUrine,dom:[-.955,1],ticks:urineTicks,fmt:d=>d3.format(".2f")(d).replace("-","−"),dx:1012.3,bar:[1099.6,1531.6],title:"SHAP value of urine protein/creatinine ratio",tx:1315,tw:391}
];
const yE=d3.scaleLinear().domain([0,270]).range([815,1085]);
panels.forEach(p=>{
  const xE=d3.scaleLinear().domain([0,398]).range([104+p.dx,502+p.dx]);
  const c=d3.scaleLinear().domain(p.dom).range([0,1]).clamp(true);
  const pts=[];
  embedX.forEach((row,i)=>row.forEach((x,j)=>{
    const vs=p.vals[i]; pts.push({x,y:embedY[i],v:vs[Math.min(j,vs.length-1)]});
  }));
  svg.append("g").selectAll("circle").data(pts).join("circle")
    .attr("cx",d=>xE(d.x)).attr("cy",d=>yE(d.y)).attr("r",5.5).attr("fill",d=>stops(c(d.v)));
  svg.append("g").selectAll("circle").data(looseX).join("circle")
    .attr("cx",d=>xE(d)).attr("cy",(d,i)=>yE(looseY[i])).attr("r",4.9).attr("fill",(d,i)=>stops(c(p.loose[i])));
  const xB=d3.scaleLinear().domain(p.dom).range(p.bar);
  svg.append("rect").attr("x",p.bar[0]).attr("y",1158.7).attr("width",p.bar[1]-p.bar[0]).attr("height",10.5).attr("fill","url(#gh)");
  const ax=svg.append("g").attr("transform","translate(0,1169)").call(d3.axisBottom(xB).tickValues(p.ticks).tickSize(0).tickFormat(p.fmt));
  ax.select(".domain").remove();
  ax.selectAll("text").attr("font-size",16.5).attr("font-family","Open Sans").attr("dy",0).attr("y",18);
  put(p.title,p.tx,1139,19.5,"middle",p.tw);
});
put("(A)",202,237,27,"middle");
put("(B)",98,816,27,"middle");
put("(C)",623,816,27,"middle");
put("(D)",1143,816,27,"middle");
put("=",557.5,955,44,"middle");
put("+",1071,955,44,"middle");
put("+",1578,955,44,"middle");
put("331",1706,934,29,"middle");
put("other features",1707,971,29,"middle",180);
</script></body></html>
